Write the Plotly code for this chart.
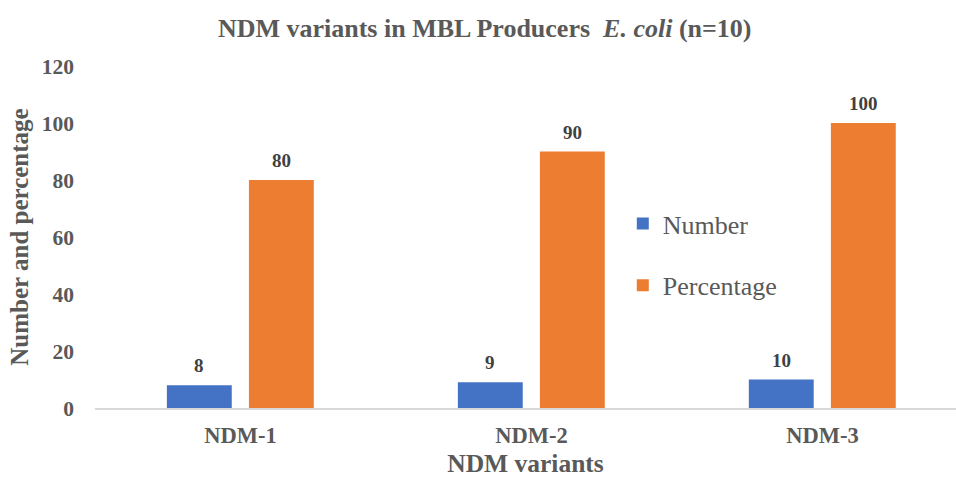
import plotly.graph_objects as go

categories = ["NDM-1", "NDM-2", "NDM-3"]
number = [8, 9, 10]
percentage = [80, 90, 100]
y_ticks = [0, 20, 40, 60, 80, 100, 120]

FONT = "Liberation Serif, Times New Roman, serif"
GREY = "#595959"
DARK = "#404040"

BAR_W = 0.223
OFF_NUM = -0.253
OFF_PCT = 0.029
X_RANGE = [-0.5, 2.459]
PLOT_W = 956 - 95

fig = go.Figure()
fig.add_trace(go.Bar(
    x=categories, y=number, name="Number",
    marker=dict(color="#4472C4", line=dict(width=0)),
    width=BAR_W, offset=OFF_NUM,
    legendgroup="a",
))
fig.add_trace(go.Bar(
    x=categories, y=percentage, name="Percentage",
    marker=dict(color="#ED7D31", line=dict(width=0)),
    width=BAR_W, offset=OFF_PCT,
    legendgroup="b",
))

px_per_unit = PLOT_W / (X_RANGE[1] - X_RANGE[0])
for values, off in ((number, OFF_NUM), (percentage, OFF_PCT)):
    shift = (off + BAR_W / 2) * px_per_unit
    for c, v in zip(categories, values):
        fig.add_annotation(
            x=c, y=v, text=str(v), showarrow=False,
            xanchor="center", yanchor="bottom", xshift=shift, yshift=7,
            font=dict(family=FONT, size=19, color=DARK, weight="bold"),
        )

fig.update_layout(
    width=956, height=479,
    paper_bgcolor="white", plot_bgcolor="white",
    barmode="overlay",
    margin=dict(l=95, r=0, t=66, b=71),
    title=dict(
        text="NDM variants in MBL Producers\u00a0 <i>E. coli</i> (n=10)",
        x=0.507, xanchor="center", y=0.9415, yanchor="middle",
        font=dict(family=FONT, size=26, color=GREY, weight="bold"),
    ),
    font=dict(family=FONT, color=GREY),
    legend=dict(
        x=0.613, y=0.608, xanchor="left", yanchor="top",
        font=dict(family=FONT, size=26, color=GREY),
        traceorder="grouped", tracegroupgap=25,
        bgcolor="rgba(0,0,0,0)",
    ),
    xaxis=dict(
        range=X_RANGE,
        showline=True, linecolor="#D9D9D9", linewidth=1.5,
        ticks="", showgrid=False,
        tickfont=dict(family=FONT, size=22.5, color=GREY, weight="bold"),
        ticklabelstandoff=6,
        title=dict(text="NDM variants", font=dict(family=FONT, size=25.5, color=GREY, weight="bold"), standoff=7),
    ),
    yaxis=dict(
        range=[0, 120], tickvals=y_ticks,
        showgrid=False, zeroline=False, showline=False, ticks="",
        tickfont=dict(family=FONT, size=21.5, color=GREY, weight="bold"),
        ticklabelstandoff=20,
        title=dict(text="Number and percentage", font=dict(family=FONT, size=25, color=GREY, weight="bold"), standoff=6),
    ),
)

fig.write_html("out.html", config={"displayModeBar": False},
               post_script="document.body.style.margin='0';")
